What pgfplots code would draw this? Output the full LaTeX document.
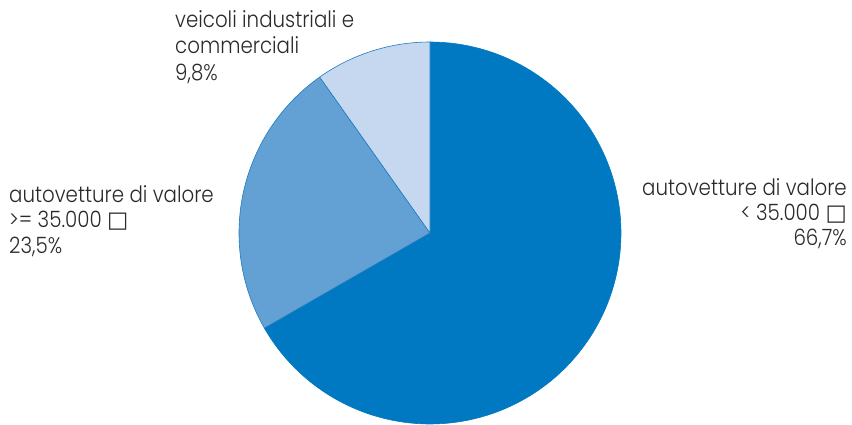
\documentclass[border=0pt]{standalone}
\usepackage{pgfplots}
\pgfplotsset{compat=1.18}
\usepackage{fontspec}
\IfFontExistsTF{Poppins Light}
  {\setmainfont{Poppins Light}[FakeStretch=0.88]\def\lblsize{22.5}}
  {\setmainfont{Liberation Sans}\def\lblsize{22.5}}
\newfontfamily\symfont{DejaVu Sans}

\definecolor{slicedark}{HTML}{0079C2}
\definecolor{slicemid}{HTML}{63A0D4}
\definecolor{slicelight}{HTML}{C5D8EF}
\definecolor{edgeblue}{HTML}{1C7BC0}
\definecolor{labeltext}{HTML}{2A2A2A}

% shares in percent, laid out clockwise from 12 o'clock
\def\shareA{66.7} % autovetture < 35.000
\def\shareB{23.5} % autovetture >= 35.000
\def\shareC{9.8}  % veicoli industriali e commerciali
\pgfmathsetmacro\angA{90}
\pgfmathsetmacro\angB{\angA-3.6*\shareA}
\pgfmathsetmacro\angC{\angB-3.6*\shareB}
\pgfmathsetmacro\angD{\angC-3.6*\shareC}

\def\cx{430}
\def\cy{191}
\def\rr{191}

\newcommand{\lbl}{\fontsize{\lblsize}{26}\selectfont\color{labeltext}}
\newcommand{\boxsym}{{\symfont\char"25A1}}

\begin{document}
\begin{tikzpicture}
\begin{axis}[
  width=852pt, height=424pt, scale only axis,
  xmin=0, xmax=852, ymin=0, ymax=424,
  hide axis, clip=false,
]
\addplot[fill=slicedark, draw=slicedark, line width=0.6pt,
  domain=\angB:\angA, samples=160, variable=\t]
  ({\cx+\rr*cos(\t)}, {\cy+\rr*sin(\t)}) -- (\cx,\cy) -- cycle;
\addplot[fill=slicemid, draw=edgeblue, line width=0.6pt,
  domain=\angC:\angB, samples=80, variable=\t]
  ({\cx+\rr*cos(\t)}, {\cy+\rr*sin(\t)}) -- (\cx,\cy) -- cycle;
\addplot[fill=slicelight, draw=edgeblue, line width=0.6pt,
  domain=\angD:\angC, samples=40, variable=\t]
  ({\cx+\rr*cos(\t)}, {\cy+\rr*sin(\t)}) -- (\cx,\cy) -- cycle;

% slice labels
\node[anchor=base west, inner sep=0pt] at (axis cs:175,396) {\lbl veicoli industriali e};
\node[anchor=base west, inner sep=0pt] at (axis cs:175,370) {\lbl commerciali};
\node[anchor=base west, inner sep=0pt] at (axis cs:175,343) {\lbl 9,8\%};

\node[anchor=base west, inner sep=0pt] at (axis cs:9,222) {\lbl autovetture di valore};
\node[anchor=base west, inner sep=0pt] at (axis cs:9,197) {\lbl >= 35.000 \boxsym};
\node[anchor=base west, inner sep=0pt] at (axis cs:9,171) {\lbl 23,5\%};

\node[anchor=base east, inner sep=0pt] at (axis cs:847,229) {\lbl autovetture di valore};
\node[anchor=base east, inner sep=0pt] at (axis cs:847,204) {\lbl < 35.000 \boxsym};
\node[anchor=base east, inner sep=0pt] at (axis cs:847,179) {\lbl 66,7\%};
\end{axis}
% the page is exactly the axis area
\pgfresetboundingbox
\useasboundingbox (current axis.south west) rectangle (current axis.north east);
\end{tikzpicture}
\end{document}
